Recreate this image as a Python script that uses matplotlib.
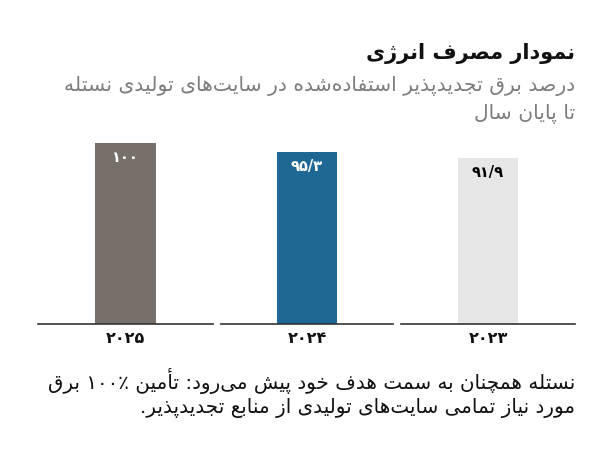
import re
import matplotlib
matplotlib.use("Agg")
import matplotlib.pyplot as plt

# ---------------- data ----------------
years = ["۲۰۲۵", "۲۰۲۴", "۲۰۲۳"]
values = [100, 95.3, 91.9]
value_labels = ["۱۰۰", "۹۵/۳", "۹۱/۹"]
colors = ["#776f69", "#1f6896", "#e6e6e6"]
label_colors = ["white", "white", "black"]

title = "نمودار مصرف انرژی"
subtitle = ["درصد برق تجدیدپذیر استفاده‌شده در سایت‌های تولیدی نستله", "تا پایان سال"]
caption = ["نستله همچنان به سمت هدف خود پیش می‌رود: تأمین ۱۰۰٪ برق",
           "مورد نیاز تمامی سایت‌های تولیدی از منابع تجدیدپذیر."]

# ---------------- simple Arabic/Persian shaping + bidi ----------------
FORMS = {  # isolated, final, initial, medial
    '\u0627': ('\uFE8D', '\uFE8E', None, None),
    '\u0622': ('\uFE81', '\uFE82', None, None),
    '\u0623': ('\uFE83', '\uFE84', None, None),
    '\u0625': ('\uFE87', '\uFE88', None, None),
    '\u0624': ('\uFE85', '\uFE86', None, None),
    '\u0626': ('\uFE89', '\uFE8A', '\uFE8B', '\uFE8C'),
    '\u0628': ('\uFE8F', '\uFE90', '\uFE91', '\uFE92'),
    '\u062A': ('\uFE95', '\uFE96', '\uFE97', '\uFE98'),
    '\u062B': ('\uFE99', '\uFE9A', '\uFE9B', '\uFE9C'),
    '\u062C': ('\uFE9D', '\uFE9E', '\uFE9F', '\uFEA0'),
    '\u062D': ('\uFEA1', '\uFEA2', '\uFEA3', '\uFEA4'),
    '\u062E': ('\uFEA5', '\uFEA6', '\uFEA7', '\uFEA8'),
    '\u062F': ('\uFEA9', '\uFEAA', None, None),
    '\u0630': ('\uFEAB', '\uFEAC', None, None),
    '\u0631': ('\uFEAD', '\uFEAE', None, None),
    '\u0632': ('\uFEAF', '\uFEB0', None, None),
    '\u0633': ('\uFEB1', '\uFEB2', '\uFEB3', '\uFEB4'),
    '\u0634': ('\uFEB5', '\uFEB6', '\uFEB7', '\uFEB8'),
    '\u0635': ('\uFEB9', '\uFEBA', '\uFEBB', '\uFEBC'),
    '\u0636': ('\uFEBD', '\uFEBE', '\uFEBF', '\uFEC0'),
    '\u0637': ('\uFEC1', '\uFEC2', '\uFEC3', '\uFEC4'),
    '\u0638': ('\uFEC5', '\uFEC6', '\uFEC7', '\uFEC8'),
    '\u0639': ('\uFEC9', '\uFECA', '\uFECB', '\uFECC'),
    '\u063A': ('\uFECD', '\uFECE', '\uFECF', '\uFED0'),
    '\u0641': ('\uFED1', '\uFED2', '\uFED3', '\uFED4'),
    '\u0642': ('\uFED5', '\uFED6', '\uFED7', '\uFED8'),
    '\u0643': ('\uFED9', '\uFEDA', '\uFEDB', '\uFEDC'),
    '\u0644': ('\uFEDD', '\uFEDE', '\uFEDF', '\uFEE0'),
    '\u0645': ('\uFEE1', '\uFEE2', '\uFEE3', '\uFEE4'),
    '\u0646': ('\uFEE5', '\uFEE6', '\uFEE7', '\uFEE8'),
    '\u0647': ('\uFEE9', '\uFEEA', '\uFEEB', '\uFEEC'),
    '\u0648': ('\uFEED', '\uFEEE', None, None),
    '\u064A': ('\uFEF1', '\uFEF2', '\uFEF3', '\uFEF4'),
    '\u067E': ('\uFB56', '\uFB57', '\uFB58', '\uFB59'),
    '\u0686': ('\uFB7A', '\uFB7B', '\uFB7C', '\uFB7D'),
    '\u0698': ('\uFB8A', '\uFB8B', None, None),
    '\u06A9': ('\uFB8E', '\uFB8F', '\uFB90', '\uFB91'),
    '\u06AF': ('\uFB92', '\uFB93', '\uFB94', '\uFB95'),
    '\u06CC': ('\uFBFC', '\uFBFD', '\uFBFE', '\uFBFF'),
}
LAMALEF = {'\u0627': ('\uFEFB', '\uFEFC'), '\u0622': ('\uFEF5', '\uFEF6'),
           '\u0623': ('\uFEF7', '\uFEF8'), '\u0625': ('\uFEF9', '\uFEFA')}


def joins_left(ch):
    return ch in FORMS and FORMS[ch][2] is not None


def shape(s):
    out = []
    i = 0
    n = len(s)
    while i < n:
        c = s[i]
        if c not in FORMS:
            if c != '\u200c':
                out.append(c)
            i += 1
            continue
        prev = s[i - 1] if i > 0 else ''
        pj = joins_left(prev)
        nxt = s[i + 1] if i + 1 < n else ''
        if c == '\u0644' and nxt in LAMALEF:
            out.append(LAMALEF[nxt][1 if pj else 0])
            i += 2
            continue
        nj = joins_left(c) and nxt in FORMS
        iso, fin, ini, med = FORMS[c]
        if pj and nj:
            out.append(med)
        elif pj:
            out.append(fin)
        elif nj:
            out.append(ini)
        else:
            out.append(iso)
        i += 1
    return ''.join(out)


LTR_RUN = re.compile(r'[0-9\u06F0-\u06F9]+(?:[/\u066B.,][0-9\u06F0-\u06F9]+)*[%\u066A]?')


def fa(s):
    s = shape(s)
    units = []
    pos = 0
    for m in LTR_RUN.finditer(s):
        units.extend(list(s[pos:m.start()]))
        units.append(m.group(0))
        pos = m.end()
    units.extend(list(s[pos:]))
    return ''.join(reversed(units))


# ---------------- figure ----------------
FONT = "DejaVu Sans"
W, H = 589, 471
fig = plt.figure(figsize=(W / 100, H / 100), dpi=100)
fig.patch.set_facecolor("white")


def fx(px):
    return px / W


def fy(py):
    return 1 - py / H


fig.text(fx(575), fy(53), fa(title), ha="right", va="center", fontsize=15,
         fontweight="bold", family=FONT, color="#111111")
fig.text(fx(575), fy(86), fa(subtitle[0]), ha="right", va="center", fontsize=14.6,
         family=FONT, color="#7d7d7d")
fig.text(fx(575), fy(114), fa(subtitle[1]), ha="right", va="center", fontsize=14.6,
         family=FONT, color="#7d7d7d")

panels = [(38, 213), (221, 393), (401, 575)]
top_px, base_px = 143, 324
for (x0, x1), yr, v, lab, col, lc in zip(panels, years, values, value_labels, colors, label_colors):
    ax = fig.add_axes([fx(x0), fy(base_px), fx(x1) - fx(x0), (base_px - top_px) / H])
    ax.bar([0], [v], width=0.35, color=col)
    ax.set_xlim(-0.5, 0.5)
    ax.set_ylim(0, 100)
    for sp in ["top", "left", "right"]:
        ax.spines[sp].set_visible(False)
    ax.spines["bottom"].set_color("#333333")
    ax.spines["bottom"].set_linewidth(1.2)
    ax.set_yticks([])
    ax.set_xticks([0])
    ax.set_xticklabels([fa(yr)], fontsize=11.5, fontweight="bold", family=FONT, color="#111111")
    ax.tick_params(axis="x", length=0, pad=5)
    ax.annotate(fa(lab), (0, v), xytext=(0, -15), textcoords="offset pixels",
                ha="center", va="center", fontsize=10.5, fontweight="bold", family=FONT, color=lc)
    ax.patch.set_alpha(0)

fig.text(fx(575), fy(381), fa(caption[0]), ha="right", va="center", fontsize=14.3,
         family=FONT, color="#111111")
fig.text(fx(575), fy(408), fa(caption[1]), ha="right", va="center", fontsize=14.3,
         family=FONT, color="#111111")

fig.savefig("out.png", dpi=100, facecolor="white")
